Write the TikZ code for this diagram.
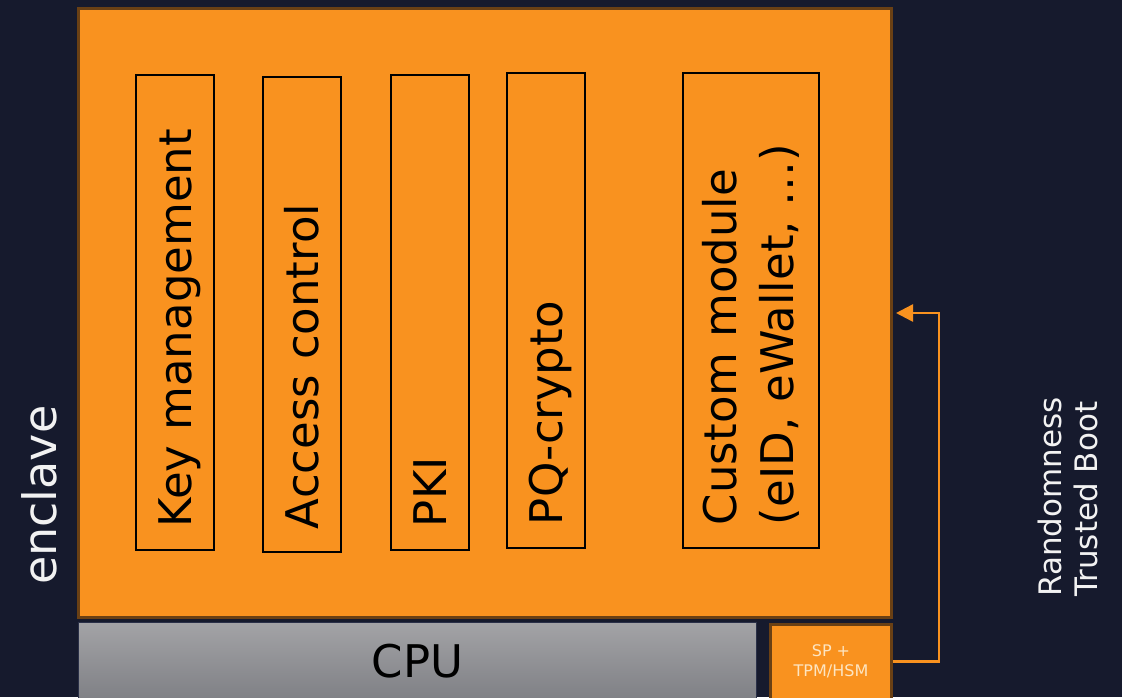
\documentclass[tikz,border=0pt]{standalone}
\usepackage{fontspec}
\setmainfont{DejaVu Sans}
\usepackage{xcolor}
\usepackage{tikz}
\usetikzlibrary{positioning,arrows.meta}

\definecolor{bgnavy}{HTML}{161A2D}
\definecolor{enclorange}{HTML}{F9921F}
\definecolor{enclrim}{HTML}{6A4014}
\definecolor{cputop}{HTML}{A3A3A6}
\definecolor{cpubot}{HTML}{7F8085}
\definecolor{cpurim}{HTML}{2A3048}
\definecolor{sptext}{HTML}{FDE5C2}
\definecolor{labelwhite}{HTML}{F2F2F2}

\tikzset{
  modbase/.style={draw=black, line width=2pt, rotate=90, inner xsep=23pt,
    inner ysep=0pt, text width=429pt, align=left,
    font=\fontsize{45}{57}\selectfont},
  module/.style={modbase, minimum height=78pt, text height=33pt, text depth=0pt},
  widemodule/.style={modbase, minimum height=136pt},
  rimbox/.style={draw=enclrim, line width=3pt, fill=enclorange, inner sep=0pt},
  sidelabel/.style={rotate=90, inner sep=0pt, text=labelwhite},
  bootlink/.style={draw=enclorange, line width=2.5pt,
    -{Triangle[length=17pt,width=17pt]}}
}

\begin{document}
\begin{tikzpicture}[x=1pt, y=-1pt]

% Page and background
\useasboundingbox (0,0) rectangle (1122,697);
\fill[bgnavy] (0,0) rectangle (1122,697);
\clip (0,0) rectangle (1122,697);

% Enclave
\node[rimbox, minimum width=813pt, minimum height=609pt] (enclave) at (485,313) {};

% Modules
\node[module] (keymgmt) at (175,312.5) {Key management};
\node[module] (access) at (302,314.5) {Access control};
\node[module] (pki) at (430,312.5) {PKI};
\node[module] (pqc) at (546,310.5) {PQ-crypto};
\node[widemodule] (custom) at (751,310.5) {Custom module\\(eID, eWallet, \textellipsis)};

% CPU and secure processor
\node[draw=cpurim, line width=1.2pt, top color=cputop, bottom color=cpubot,
  minimum width=678pt, minimum height=77pt, inner sep=0pt,
  font=\fontsize{45}{54}\selectfont] (cpu) at (417.5,661) {CPU};
\node[rimbox, minimum width=121pt, minimum height=75pt, align=center,
  text=sptext, font=\fontsize{16}{20}\selectfont] (sp) at (831,661.5) {SP +\\TPM/HSM};

% Side labels
\node[sidelabel, anchor=base west, font=\fontsize{46}{55}\selectfont] (encl) at (56,585) {enclave};
\node[sidelabel, anchor=north west, align=left, font=\fontsize{31}{36}\selectfont] (boot) at (1038,597) {Randomness\\Trusted Boot};

% Boot path into the enclave
\draw[bootlink] (sp.east) -- ++(46,0) |- ([xshift=3pt]enclave.east);

\end{tikzpicture}
\end{document}
